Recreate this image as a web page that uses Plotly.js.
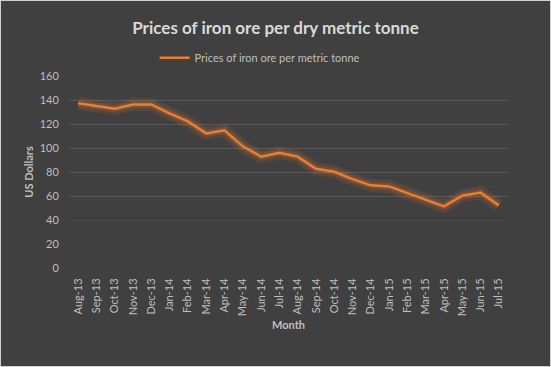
<!DOCTYPE html>
<html><head><meta charset="utf-8">
<script src="https://cdn.plot.ly/plotly-3.0.1.min.js"></script>
<style>
html,body{margin:0;padding:0;background:#404040;}
#wrap{width:549px;height:365px;border:1px solid #d0d0d0;}
#chart{width:549px;height:365px;}
</style></head>
<body><div id="wrap"><div id="chart"></div></div>
<script>
const months = ["Aug-13","Sep-13","Oct-13","Nov-13","Dec-13","Jan-14","Feb-14","Mar-14","Apr-14","May-14","Jun-14","Jul-14","Aug-14","Sep-14","Oct-14","Nov-14","Dec-14","Jan-15","Feb-15","Mar-15","Apr-15","May-15","Jun-15","Jul-15"];
const prices = [137.2,134.7,132.7,136.3,136.3,128.9,122.2,112.2,114.7,101.4,92.8,96.1,92.8,82.7,80.2,74.1,68.9,68.0,62.5,56.9,51.3,60.3,62.8,52.2];
const yTicks = [0,20,40,60,80,100,120,140,160];
const gridStrong = [60,80,100,120,140,160];
const gridFaint = [40];

const font = "Lato, 'Open Sans', sans-serif";
const traces = [
  {x: months, y: prices, type:'scatter', mode:'lines', showlegend:false, hoverinfo:'skip',
   line:{color:'rgba(237,125,49,0.12)', width:13}},
  {x: months, y: prices, type:'scatter', mode:'lines', showlegend:false, hoverinfo:'skip',
   line:{color:'rgba(237,125,49,0.18)', width:7}},
  {x: months, y: prices, type:'scatter', mode:'lines', name:'Prices of iron ore per metric tonne',
   line:{color:'#ED7D31', width:2.5}}
];
const layout = {
  width:549, height:365,
  paper_bgcolor:'#404040', plot_bgcolor:'#404040',
  margin:{l:68, r:42, t:75, b:98},
  font:{family:font, color:'#bfbfbf', size:11},
  title:{text:'Prices of iron ore per dry metric tonne', x:0.5, xanchor:'center', y:0.925, yanchor:'middle',
    font:{family:font, size:17, color:'#d9d9d9', weight:'bold'}},
  showlegend:true,
  legend:{orientation:'h', x:0.195, xanchor:'left', y:1.095, yanchor:'middle', bgcolor:'rgba(0,0,0,0)',
    font:{size:11, color:'#bfbfbf'}, itemwidth:30},
  xaxis:{type:'category', range:[-0.5, 23.5], tickangle:-90, showgrid:false, zeroline:false, showline:false,
    ticks:'outside', ticklen:5, tickcolor:'rgba(0,0,0,0)',
    tickfont:{size:11, color:'#bfbfbf'},
    title:{text:'Month', font:{size:11, color:'#bfbfbf', weight:'bold'}, standoff:5}},
  yaxis:{range:[0,160], tickvals:yTicks, ticktext:yTicks.map(String), showgrid:false,
    zeroline:false, showline:false, ticks:'outside', ticklen:7, tickcolor:'rgba(0,0,0,0)', tickfont:{size:11, color:'#bfbfbf'},
    title:{text:'US Dollars', font:{size:11, color:'#bfbfbf', weight:'bold'}, standoff:3}},
  yaxis2:{overlaying:'y', matches:'y', range:[0,160], tickvals:gridStrong, showticklabels:false, showgrid:true,
    gridcolor:'#595959', gridwidth:1, zeroline:false, showline:false, ticks:''},
  yaxis3:{overlaying:'y', matches:'y', range:[0,160], tickvals:gridFaint, showticklabels:false, showgrid:true,
    gridcolor:'#4b4b4b', gridwidth:1, zeroline:false, showline:false, ticks:''}
};
// invisible traces to activate the gridline-only axes
traces.unshift({x:[months[0]], y:[null], yaxis:'y3', type:'scatter', mode:'lines', showlegend:false, hoverinfo:'skip'});
traces.unshift({x:[months[0]], y:[null], yaxis:'y2', type:'scatter', mode:'lines', showlegend:false, hoverinfo:'skip'});
Plotly.newPlot('chart', traces, layout, {displayModeBar:false, staticPlot:true});
</script></body></html>
